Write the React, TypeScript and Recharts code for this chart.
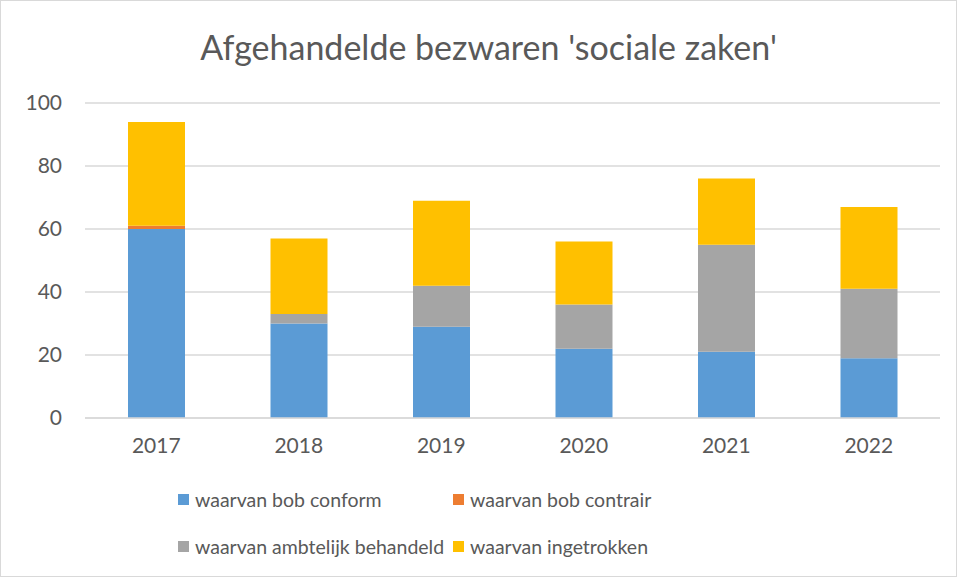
import { BarChart, Bar, XAxis, YAxis, CartesianGrid, Legend } from 'recharts'

const years = ['2017', '2018', '2019', '2020', '2021', '2022']
const bobConform = [60, 30, 29, 22, 21, 19]
const bobContrair = [1, 0, 0, 0, 0, 0]
const ambtelijk = [0, 3, 13, 14, 34, 22]
const ingetrokken = [33, 24, 27, 20, 21, 26]
const yTicks = [0, 20, 40, 60, 80, 100]

const series = [
  { key: 'conform', name: 'waarvan bob conform', color: '#5b9bd5' },
  { key: 'contrair', name: 'waarvan bob contrair', color: '#ed7d31' },
  { key: 'ambtelijk', name: 'waarvan ambtelijk behandeld', color: '#a5a5a5' },
  { key: 'ingetrokken', name: 'waarvan ingetrokken', color: '#ffc000' },
]

const data = years.map((year, i) => ({
  year,
  conform: bobConform[i],
  contrair: bobContrair[i],
  ambtelijk: ambtelijk[i],
  ingetrokken: ingetrokken[i],
}))

const FONT = 'Lato, "Liberation Sans", sans-serif'
const TEXT = '#595959'

function LegendGrid() {
  return (
    <div style={{ position: 'relative', height: 90, fontFamily: FONT, fontSize: 19.5, color: TEXT }}>
      {series.map((s, i) => (
        <div
          key={s.key}
          style={{
            position: 'absolute',
            left: i % 2 === 0 ? 177 : 452,
            top: i < 2 ? 0 : 47,
            display: 'flex',
            alignItems: 'center',
            whiteSpace: 'nowrap',
          }}
        >
          <span style={{ width: 11, height: 11, background: s.color, marginRight: 6, display: 'inline-block' }} />
          {s.name}
        </div>
      ))}
    </div>
  )
}

export default function App() {
  return (
    <div
      style={{
        position: 'absolute',
        top: 0,
        left: 0,
        width: 957,
        height: 577,
        boxSizing: 'border-box',
        border: '1px solid #d9d9d9',
        background: '#fff',
      }}
    >
      <div
        style={{
          position: 'absolute',
          top: 25,
          left: 0,
          width: 975,
          textAlign: 'center',
          fontFamily: FONT,
          fontSize: 34,
          color: TEXT,
        }}
      >
        Afgehandelde bezwaren 'sociale zaken'
      </div>
      <BarChart
        width={955}
        height={575}
        data={data}
        margin={{ top: 102, right: 16, bottom: 118, left: 0 }}
        barSize={57}
      >
        <CartesianGrid vertical={false} stroke="#d9d9d9" strokeWidth={1.5} />
        <XAxis
          dataKey="year"
          axisLine={{ stroke: '#d9d9d9', strokeWidth: 1.5 }}
          tickLine={false}
          tickMargin={14}
          height={40}
          tick={{ fontSize: 21, fill: TEXT, fontFamily: FONT }}
        />
        <YAxis
          domain={[0, 100]}
          ticks={yTicks}
          axisLine={false}
          tickLine={false}
          width={84}
          tickMargin={17}
          tick={{ fontSize: 21, fill: TEXT, fontFamily: FONT }}
        />
        <Legend
          layout="horizontal"
          verticalAlign="middle"
          align="center"
          wrapperStyle={{ top: 487, left: 0, width: 955 }}
          content={() => <LegendGrid />}
        />
        {series.map((s) => (
          <Bar key={s.key} dataKey={s.key} name={s.name} stackId="a" fill={s.color} isAnimationActive={false} />
        ))}
      </BarChart>
    </div>
  )
}
